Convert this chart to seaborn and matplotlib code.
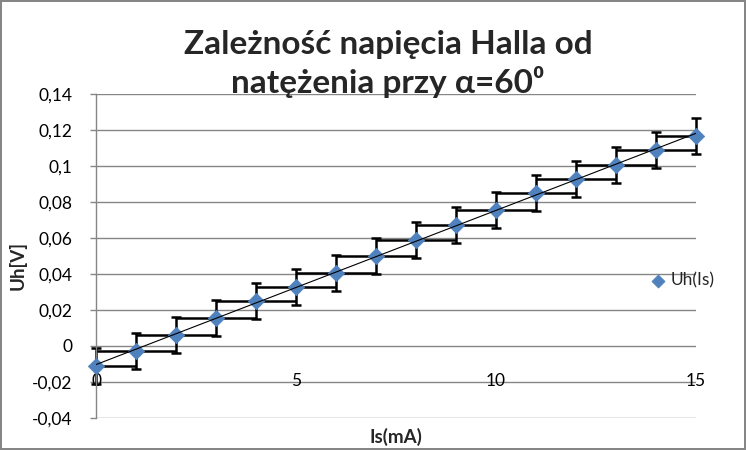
import numpy as np
import pandas as pd
import matplotlib
matplotlib.use("Agg")
import matplotlib.pyplot as plt
import seaborn as sns

# ---- data ----
current_mA = [0, 1, 2, 3, 4, 5, 6, 7, 8, 9, 10, 11, 12, 13, 14, 15]
hall_V = [-0.011, -0.0025, 0.006, 0.0155, 0.025, 0.033, 0.0405, 0.050,
          0.059, 0.0675, 0.0755, 0.085, 0.093, 0.1005, 0.109, 0.1167]
x_err = 1
y_err = 0.01
y_ticks = [-0.04, -0.02, 0, 0.02, 0.04, 0.06, 0.08, 0.1, 0.12, 0.14]
y_tick_labels = ["-0,04", "-0,02", "0", "0,02", "0,04", "0,06", "0,08", "0,1", "0,12", "0,14"]
x_ticks = [0, 5, 10, 15]
x_tick_labels = ["0", "5", "10", "15"]
title_lines = "Zależność napięcia Halla od\nnatężenia przy α=60⁰"
series_name = "Uh(Is)"

df = pd.DataFrame({"Is": current_mA, "Uh": hall_V})

sns.set_theme(style="white")
plt.rcParams["font.family"] = ["Lato", "DejaVu Sans"]

W, H, DPI = 746, 450, 100
fig = plt.figure(figsize=(W / DPI, H / DPI), dpi=DPI)
fig.patch.set_facecolor("white")
fig.patch.set_edgecolor("#868686")
fig.patch.set_linewidth(1.5)

ax = fig.add_axes([96 / W, 1 - 418 / H, 600 / W, 324 / H])
ax.set_xlim(0, 15)
ax.set_ylim(-0.04, 0.14)

grid_c = "#868686"
ax.set_yticks(y_ticks)
ax.set_yticklabels(y_tick_labels, fontsize=12.5, color="black")
ax.yaxis.grid(True, color=grid_c, linewidth=1)
ax.xaxis.grid(False)
ax.set_xticks([])
ax.tick_params(axis="y", left=True, length=4, width=1, color=grid_c, pad=13)
for s in ["top", "right", "bottom"]:
    ax.spines[s].set_visible(False)
ax.spines["left"].set_color(grid_c)
ax.spines["left"].set_linewidth(1)
ax.set_axisbelow(True)

# horizontal error bars (clipped at the axis ends)
ax.errorbar(df["Is"], df["Uh"], xerr=x_err, fmt="none",
            ecolor="black", elinewidth=1.8, capsize=0, zorder=2)
# vertical error bars with caps
eb = ax.errorbar(df["Is"], df["Uh"], yerr=y_err, fmt="none",
                 ecolor="black", elinewidth=1.8, capsize=3.5, capthick=1.8, zorder=2)
for art in eb.lines[1] + eb.lines[2]:
    art.set_clip_on(False)

# markers
sns.scatterplot(data=df, x="Is", y="Uh", marker="D", s=70, color="#4F81BD",
                edgecolor="#4F81BD", linewidth=0.5, ax=ax, zorder=3, label=series_name,
                legend=False, clip_on=False)

# linear trendline
sns.regplot(data=df, x="Is", y="Uh", scatter=False, ci=None, ax=ax,
            line_kws={"color": "black", "linewidth": 0.8, "zorder": 4})

ax.set_xlabel("")
ax.set_ylabel("")

# x tick labels (Excel places them on the -0.02 row)
for xv, lab in zip(x_ticks, x_tick_labels):
    ax.text(xv, -0.0195, lab, ha="center", va="center", fontsize=12.5, color="black", zorder=1)

# axis titles
fig.text(18 / W, 1 - 265 / H, "Uh[V]", rotation=90, ha="center", va="center",
         fontsize=13.5, fontweight="bold")
fig.text(396 / W, 1 - 437 / H, "Is(mA)", ha="center", va="center",
         fontsize=13.5, fontweight="bold")

# title
fig.text(388 / W, 1 - 64 / H, title_lines, ha="center", va="center",
         fontsize=24, fontweight="bold", linespacing=1.25)

# legend
handles, labels = ax.get_legend_handles_labels()
fig.legend(handles, labels, loc="center left", bbox_to_anchor=(648 / W, 1 - 280 / H),
           frameon=False, fontsize=12.5, handletextpad=0.1, markerscale=0.8,
           borderaxespad=0, borderpad=0, handlelength=1.2)

fig.savefig("out.png", dpi=DPI, facecolor="white", edgecolor=fig.get_edgecolor())
